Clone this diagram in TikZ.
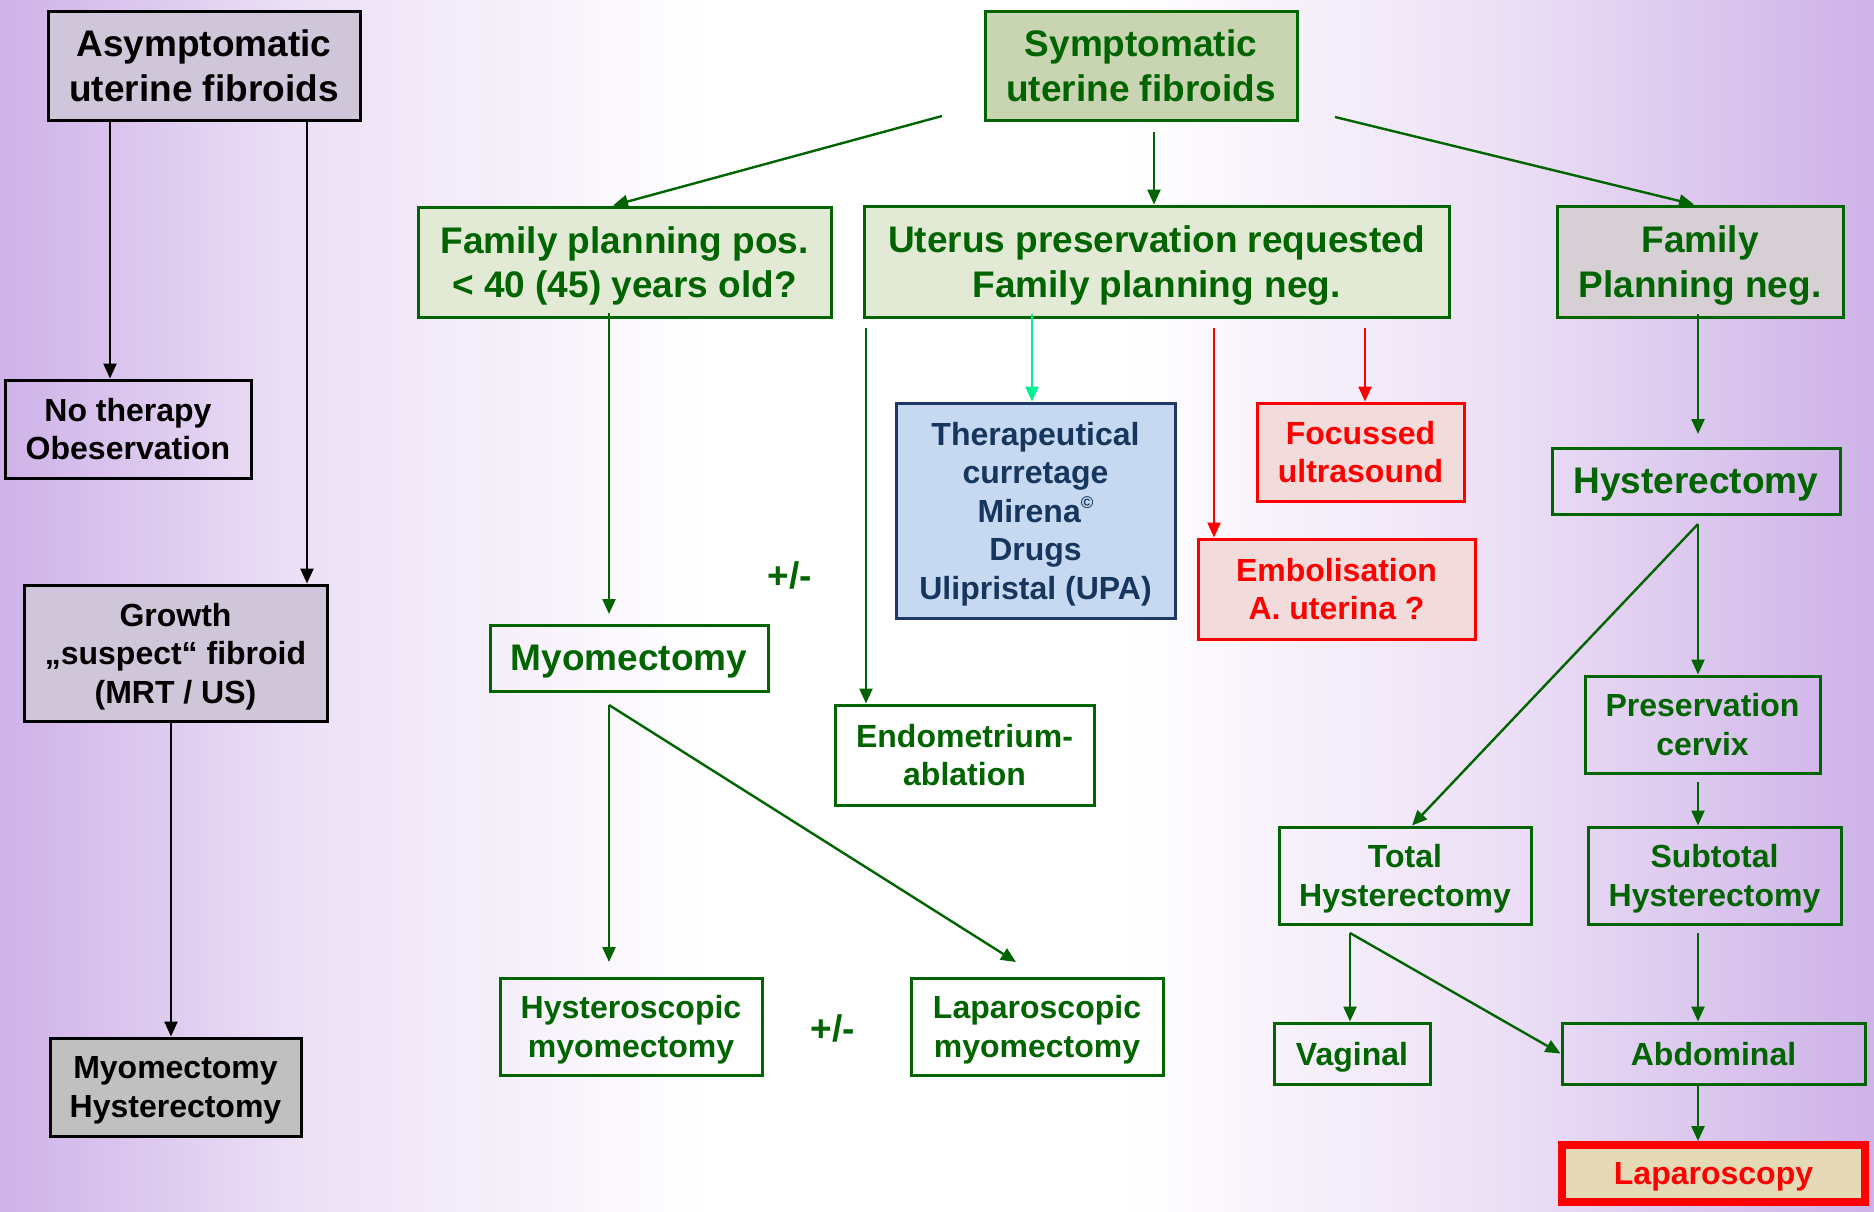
\documentclass[tikz,border=0pt]{standalone}
\usepackage{fontspec}
\setmainfont{Liberation Sans}
\usetikzlibrary{arrows.meta}
\definecolor{lav}{RGB}{206,178,232}
\definecolor{lavl}{RGB}{236,224,246}
\definecolor{dg}{RGB}{0,100,0}
\definecolor{mint}{RGB}{0,240,150}
\definecolor{asymfill}{RGB}{208,198,218}
\definecolor{symfill}{RGB}{200,212,178}
\definecolor{lgfill}{RGB}{226,234,214}
\definecolor{fpnfill}{RGB}{214,208,212}
\definecolor{grayfill}{RGB}{192,192,192}
\definecolor{bluefill}{RGB}{198,217,240}
\definecolor{navy}{RGB}{31,56,100}
\definecolor{navytext}{RGB}{23,54,93}
\definecolor{pinkfill}{RGB}{242,220,219}
\definecolor{tanfill}{RGB}{230,218,182}
\pgfdeclarehorizontalshading{bgh}{100bp}{color(0bp)=(lav); color(25bp)=(lav); color(33bp)=(lavl); color(44bp)=(white); color(55bp)=(white); color(65bp)=(lavl); color(75bp)=(lav); color(100bp)=(lav)}
\tikzset{
  bx/.style={draw, line width=3pt, inner sep=0pt, align=center, text depth=0pt},
  bigt/.style={font=\fontsize{37}{44.5}\selectfont\bfseries},
  smallt/.style={font=\fontsize{32}{38.5}\selectfont\bfseries},
  gbox/.style={bx, draw=dg, text=dg},
  kbox/.style={bx, draw=black, text=black},
  arr/.style={line width=2.4pt, -{Triangle[length=15pt,width=13pt]}},
  garr/.style={arr, draw=dg, fill=dg},
  karr/.style={arr, draw=black, fill=black},
  rarr/.style={arr, draw=red, fill=red},
  marr/.style={arr, draw=mint, fill=mint},
}
\begin{document}
\begin{tikzpicture}[x=1pt,y=-1pt]
\useasboundingbox (0,0) rectangle (1874,1211);
\shade[shading=bgh] (0,0) rectangle (1874,1211);

% left column
\node[kbox, bigt, fill=asymfill, minimum width=312, minimum height=109] (asym) at (204,65.5) {Asymptomatic\\uterine fibroids};
\node[kbox, smallt, minimum width=246, minimum height=98] (noth) at (128,429) {No therapy\\Obeservation};
\node[kbox, smallt, fill=asymfill, minimum width=303, minimum height=136] (growth) at (175.5,653) {Growth\\„suspect“ fibroid\\(MRT / US)};
\node[kbox, smallt, fill=grayfill, minimum width=251, minimum height=98] (myohys) at (175.5,1087) {Myomectomy\\Hysterectomy};

% top row
\node[gbox, bigt, fill=symfill, minimum width=312, minimum height=109] (sym) at (1141,65.5) {Symptomatic\\uterine fibroids};
\node[gbox, bigt, fill=lgfill, minimum width=413, minimum height=110] (fpp) at (624.5,262) {Family planning pos.\\< 40 (45) years old?};
\node[gbox, bigt, fill=lgfill, minimum width=585, minimum height=111] (ute) at (1156.5,261.5) {Uterus preservation requested\\Family planning neg.};
\node[gbox, bigt, fill=fpnfill, minimum width=286, minimum height=111] (fpn) at (1700,261.5) {Family\\Planning neg.};

% middle
\node[gbox, bigt, minimum width=278, minimum height=66] (myo) at (629,658) {Myomectomy};
\node[gbox, smallt, minimum width=259, minimum height=100] (endo) at (964.5,755) {Endometrium-\\ablation};
\node[gbox, smallt, minimum width=262, minimum height=97] (hysc) at (631,1026.5) {Hysteroscopic\\myomectomy};
\node[gbox, smallt, minimum width=252, minimum height=97] (lapm) at (1037,1026.5) {Laparoscopic\\myomectomy};
\node[text=dg, bigt, inner sep=0pt] (pm1) at (790,575) {+/-};
\node[text=dg, bigt, inner sep=0pt] (pm2) at (833,1028) {+/-};

\node[bx, smallt, draw=navy, text=navytext, fill=bluefill, minimum width=279, minimum height=215] (ther) at (1035.5,510.5) {Therapeutical\\curretage\\Mirena\raisebox{0.42em}{\fontsize{17}{17}\selectfont ©}\\Drugs\\Ulipristal (UPA)};
\node[bx, smallt, draw=red, text=red, fill=pinkfill, minimum width=207, minimum height=98] (focus) at (1360.5,452) {Focussed\\ultrasound};
\node[bx, smallt, draw=red, text=red, fill=pinkfill, minimum width=277, minimum height=100] (embo) at (1336.5,589) {Embolisation\\A. uterina ?};

% right column
\node[gbox, bigt, minimum width=288, minimum height=66] (hyst) at (1696,481) {Hysterectomy};
\node[gbox, smallt, minimum width=235, minimum height=97] (pres) at (1702.5,724.5) {Preservation\\cervix};
\node[gbox, smallt, minimum width=252, minimum height=97] (total) at (1405,875.5) {Total\\Hysterectomy};
\node[gbox, smallt, minimum width=253, minimum height=97] (subt) at (1714.5,875.5) {Subtotal\\Hysterectomy};
\node[gbox, smallt, minimum width=156, minimum height=61] (vag) at (1352,1053.5) {Vaginal};
\node[gbox, smallt, minimum width=303, minimum height=61] (abd) at (1713.5,1053.5) {Abdominal};
\node[bx, smallt, draw=red, line width=8pt, text=red, fill=tanfill, minimum width=303, minimum height=57] (lap) at (1713.5,1173.5) {Laparoscopy};

% x positions / free ends
\coordinate (xa) at (110,0);
\coordinate (xb) at (307,0);
\coordinate (xc) at (171,0);
\coordinate (s1) at (942,116);
\coordinate (t1) at (613,0);
\coordinate (s2) at (1154,132);
\coordinate (s3) at (1335,117);
\coordinate (t3) at (1694,0);
\coordinate (s4) at (609,313);
\coordinate (e4) at (609,614);
\coordinate (s5) at (866,328);
\coordinate (s6) at (1032,314);
\coordinate (s7) at (1214,328);
\coordinate (s8) at (1365,328);
\coordinate (s9) at (1698,314);
\coordinate (e9) at (1698,434);
\coordinate (s10) at (1698,524);
\coordinate (t10) at (1412,0);
\coordinate (s11) at (1698,782);
\coordinate (s12) at (609,705);
\coordinate (e12) at (609,962);
\coordinate (e13) at (1016,962);
\coordinate (s14) at (1350,933);
\coordinate (s15) at (1698,933);

% black connectors
\draw[karr] (asym.south -| xa) -- (noth.north -| xa);
\draw[karr] (asym.south -| xb) -- (growth.north -| xb);
\draw[karr] (growth.south -| xc) -- (myohys.north -| xc);

% green connectors
\draw[garr] (s1) -- (fpp.north -| t1);
\draw[garr] (s2) -- (ute.north -| s2);
\draw[garr] (s3) -- (fpn.north -| t3);
\draw[garr] (s4) -- (e4);
\draw[garr] (s5) -- (endo.north -| s5);
\draw[marr] (s6) -- (ther.north -| s6);
\draw[rarr] (s7) -- (embo.north -| s7);
\draw[rarr] (s8) -- (focus.north -| s8);
\draw[garr] (s9) -- (e9);
\draw[garr] (s10) -- (pres.north -| s10);
\draw[garr] (s10) -- (total.north -| t10);
\draw[garr] (s11) -- (subt.north -| s11);
\draw[garr] (s12) -- (e12);
\draw[garr] (s12) -- (e13);
\draw[garr] (s14) -- (vag.north -| s14);
\draw[garr] (s14) -- (abd.west);
\draw[garr] (s15) -- (abd.north -| s15);
\draw[garr] (abd.south -| s15) -- (lap.north -| s15);
\end{tikzpicture}
\end{document}
